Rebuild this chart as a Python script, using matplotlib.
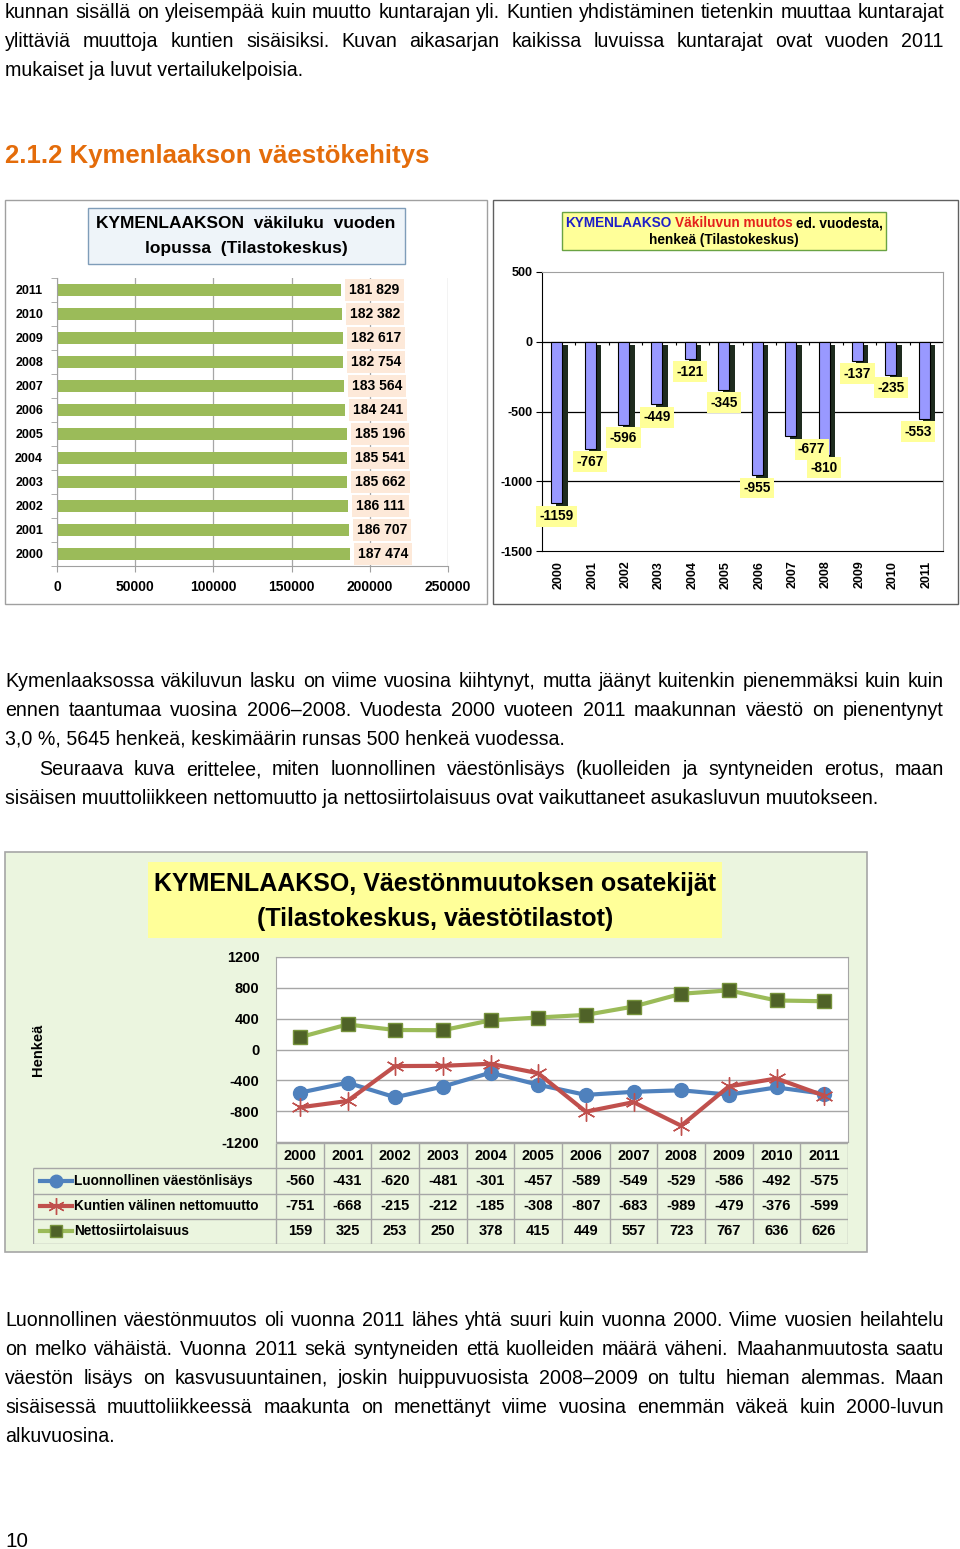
import matplotlib
matplotlib.use("Agg")
import matplotlib.pyplot as plt
from matplotlib.patches import Rectangle
from matplotlib.lines import Line2D
import numpy as np

# ---------------- data ----------------
years = [2000, 2001, 2002, 2003, 2004, 2005, 2006, 2007, 2008, 2009, 2010, 2011]
population = [187474, 186707, 186111, 185662, 185541, 185196, 184241, 183564,
              182754, 182617, 182382, 181829]
change = [-1159, -767, -596, -449, -121, -345, -955, -677, -810, -137, -235, -553]
natural = [-560, -431, -620, -481, -301, -457, -589, -549, -529, -586, -492, -575]
internal = [-751, -668, -215, -212, -185, -308, -807, -683, -989, -479, -376, -599]
immigration = [159, 325, 253, 250, 378, 415, 449, 557, 723, 767, 636, 626]
series_names = ["Luonnollinen väestönlisäys", "Kuntien välinen nettomuutto",
                "Nettosiirtolaisuus"]

para1 = ["kunnan sisällä on yleisempää kuin muutto kuntarajan yli. Kuntien yhdistäminen tietenkin muuttaa kuntarajat",
         "ylittäviä muuttoja kuntien sisäisiksi. Kuvan aikasarjan kaikissa luvuissa kuntarajat ovat vuoden 2011",
         "mukaiset ja luvut vertailukelpoisia."]
heading = "2.1.2 Kymenlaakson väestökehitys"
para2 = ["Kymenlaaksossa väkiluvun lasku on viime vuosina kiihtynyt, mutta jäänyt kuitenkin pienemmäksi kuin kuin",
         "ennen taantumaa vuosina 2006–2008. Vuodesta 2000 vuoteen 2011 maakunnan väestö on pienentynyt",
         "3,0 %, 5645 henkeä, keskimäärin runsas 500 henkeä vuodessa.",
         "Seuraava kuva erittelee, miten luonnollinen väestönlisäys (kuolleiden ja syntyneiden erotus, maan",
         "sisäisen muuttoliikkeen nettomuutto ja nettosiirtolaisuus ovat vaikuttaneet asukasluvun muutokseen."]
para3 = ["Luonnollinen väestönmuutos oli vuonna 2011 lähes yhtä suuri kuin vuonna 2000. Viime vuosien heilahtelu",
         "on melko vähäistä. Vuonna 2011 sekä syntyneiden että kuolleiden määrä väheni. Maahanmuutosta saatu",
         "väestön lisäys on kasvusuuntainen, joskin huippuvuosista 2008–2009 on tultu hieman alemmas. Maan",
         "sisäisessä muuttoliikkeessä maakunta on menettänyt viime vuosina enemmän väkeä kuin 2000-luvun",
         "alkuvuosina."]

# ---------------- setup ----------------
W, H = 960, 1549
fig = plt.figure(figsize=(W / 100, H / 100), dpi=100)
fig.patch.set_facecolor("white")
renderer = fig.canvas.get_renderer()

BODY = ["Liberation Sans Narrow", "Liberation Sans", "DejaVu Sans"]
SANS = ["Liberation Sans", "DejaVu Sans"]


def fx(x):
    return x / W


def fy(y):
    return 1 - y / H


def box(x0, y0, x1, y1):
    return [x0 / W, 1 - y1 / H, (x1 - x0) / W, (y1 - y0) / H]


def text_width(s, **kw):
    t = fig.text(0, 0, s, **kw)
    w = t.get_window_extent(renderer).width
    t.remove()
    return w


def fit_size(s, target, **kw):
    return 10 * target / text_width(s, fontsize=10, **kw)


def rect(x0, y0, x1, y1, **kw):
    r = Rectangle((fx(x0), fy(y1)), (x1 - x0) / W, (y1 - y0) / H,
                  transform=fig.transFigure, **kw)
    fig.add_artist(r)
    return r


def draw_line(s, x0, x1, yb, justify, size, **kw):
    if not justify:
        fig.text(fx(x0), fy(yb), s, fontsize=size, va="baseline", ha="left", **kw)
        return
    words = s.split(" ")
    widths = [text_width(w, fontsize=size, **kw) for w in words]
    gap = (x1 - x0 - sum(widths)) / (len(words) - 1)
    x = x0
    for w, wd in zip(words, widths):
        fig.text(fx(x), fy(yb), w, fontsize=size, va="baseline", ha="left", **kw)
        x += wd + gap


# ---------------- body text ----------------
body_size = fit_size(para2[4], 871, family=BODY)
XL, XR = 5, 944

for i, line in enumerate(para1):
    draw_line(line, XL, XR, 18 + 29 * i, i < 2, body_size, family=BODY)

head_size = fit_size(heading, 425, family=BODY, fontweight="bold")
fig.text(fx(5), fy(163), heading, fontsize=head_size, family=BODY,
         fontweight="bold", color="#E46C0A", va="baseline", ha="left")

p2_y = [687, 716, 745, 775, 804]
p2_x = [XL, XL, XL, 39, XL]
p2_j = [True, True, False, True, False]
for line, yb, x0, j in zip(para2, p2_y, p2_x, p2_j):
    draw_line(line, x0, XR, yb, j, body_size, family=BODY)

p3_y = [1326, 1355, 1384, 1413, 1442]
p3_j = [True, True, True, True, False]
for line, yb, j in zip(para3, p3_y, p3_j):
    draw_line(line, XL, XR, yb, j, body_size, family=BODY)

fig.text(fx(5), fy(1547), "10", fontsize=body_size * 1.05, family=BODY,
         va="baseline", ha="left")

# ---------------- chart 1: population bars ----------------
rect(5, 200, 487, 604, fc="white", ec="#A0A0A0", lw=1.0, zorder=-2)
rect(88, 208, 405, 264, fc="#EEF4F9", ec="#7F9DB9", lw=1.0, zorder=-1)
fig.text(fx(246), fy(224), "KYMENLAAKSON  väkiluku  vuoden", family=SANS,
         fontweight="bold", fontsize=12.5, ha="center", va="center")
fig.text(fx(246), fy(249), "lopussa  (Tilastokeskus)", family=SANS,
         fontweight="bold", fontsize=12.5, ha="center", va="center")

ax1 = fig.add_axes(box(57, 278, 448, 566))
ypos = np.arange(len(years))
ax1.barh(ypos, population, height=0.48, color="#9BBB59", zorder=2)
ax1.set_xlim(0, 250000)
ax1.set_ylim(-0.5, len(years) - 0.5)
ax1.set_xticks(range(0, 250001, 50000))
ax1.set_xticklabels([str(v) for v in range(0, 250001, 50000)],
                    family=SANS, fontweight="bold", fontsize=10)
ax1.set_yticks(ypos)
ax1.set_yticklabels([str(y) for y in years], family=SANS, fontweight="bold", fontsize=9)
ax1.set_yticks(np.arange(-0.5, len(years), 1), minor=True)
ax1.tick_params(axis="y", which="major", length=0, pad=10)
ax1.tick_params(axis="y", which="minor", length=4, color="#A0A0A0")
ax1.tick_params(axis="x", length=4, color="#A0A0A0", pad=6)
ax1.xaxis.grid(True, color="#A6A6A6", lw=0.9)
ax1.set_axisbelow(True)
for s in ["top", "right"]:
    ax1.spines[s].set_visible(False)
for s in ["left", "bottom"]:
    ax1.spines[s].set_color("#A0A0A0")
for yv, pv in zip(ypos, population):
    ax1.annotate(f"{pv:,}".replace(",", " "), (pv, yv), xytext=(8, 0),
                 textcoords="offset pixels", ha="left", va="center",
                 family=SANS, fontweight="bold", fontsize=10,
                 bbox=dict(boxstyle="square,pad=0.28", fc="#FDE9D9", ec="none"))

# ---------------- chart 2: annual change ----------------
rect(493, 200, 958, 604, fc="white", ec="#606060", lw=1.0, zorder=-2)
rect(562, 212, 886, 250, fc="#FFFF99", ec="#6AA343", lw=1.0, zorder=-1)
parts = [("KYMENLAAKSO", "#1F1FC8"), ("Väkiluvun muutos", "#E3201B"),
         ("ed. vuodesta,", "black")]
t_size = 9.8
gap = 3
pw = [text_width(p, family=SANS, fontweight="bold", fontsize=t_size) for p, _ in parts]
x = 724 - (sum(pw) + gap * (len(parts) - 1)) / 2
for (p, c), w in zip(parts, pw):
    fig.text(fx(x), fy(223), p, family=SANS, fontweight="bold", fontsize=t_size,
             color=c, ha="left", va="center")
    x += w + gap
fig.text(fx(724), fy(240), "henkeä (Tilastokeskus)", family=SANS, fontweight="bold",
         fontsize=t_size, ha="center", va="center")

ax2 = fig.add_axes(box(542, 272, 943, 551))
xpos = np.arange(len(years))
ax2.bar(xpos + 0.09, change, width=0.36, bottom=-21, color="#1E2B1E", zorder=2)
ax2.bar(xpos - 0.06, change, width=0.33, color="#9999FF", edgecolor="black",
        lw=0.8, zorder=3)
ax2.set_xlim(-0.5, len(years) - 0.5)
ax2.set_ylim(-1500, 500)
ax2.set_yticks(range(-1500, 501, 500))
ax2.set_yticklabels([str(v) for v in range(-1500, 501, 500)], family=SANS,
                    fontweight="bold", fontsize=9)
ax2.set_xticks(xpos)
ax2.set_xticklabels([str(y) for y in years], rotation=90, family=SANS,
                    fontweight="bold", fontsize=9, va="top")
ax2.tick_params(axis="x", length=0, pad=7)
ax2.tick_params(axis="y", length=4, color="black", pad=3)
for v in (-1000, -500, 0):
    ax2.axhline(v, color="black", lw=0.9, zorder=1)
ax2.vlines(np.arange(0.5, len(years) - 0.5, 1), -25, 0, color="black", lw=0.8, zorder=1)
ax2.spines["top"].set_color("#A0A0A0")
ax2.spines["right"].set_color("#A0A0A0")
label_shift = {2007: 21, 2011: -6}
for xv, yr, cv in zip(xpos, years, change):
    ax2.annotate(str(cv), (xv, cv), xytext=(label_shift.get(yr, 0) - 2, -13),
                 textcoords="offset pixels", ha="center", va="center",
                 family=SANS, fontweight="bold", fontsize=9.8, zorder=5,
                 bbox=dict(boxstyle="square,pad=0.25", fc="#FFFF99", ec="none"))

# ---------------- chart 3: components ----------------
rect(5, 852, 867, 1252, fc="#EBF5DF", ec="#A6A6A6", lw=1.2, zorder=-2)
rect(148, 862, 722, 938, fc="#FFFF99", ec="none", zorder=-1)
title3 = ["KYMENLAAKSO, Väestönmuutoksen osatekijät", "(Tilastokeskus, väestötilastot)"]
t3_size = fit_size(title3[0], 563, family=BODY, fontweight="bold")
fig.text(fx(435), fy(884), title3[0], family=BODY, fontweight="bold",
         fontsize=t3_size, ha="center", va="center")
fig.text(fx(435), fy(919), title3[1], family=BODY, fontweight="bold",
         fontsize=t3_size, ha="center", va="center")

ax3 = fig.add_axes(box(276, 957, 848, 1142))
ax3.set_facecolor("white")
colors = ["#4F81BD", "#C0504D", "#9BBB59"]
ax3.plot(xpos, natural, color=colors[0], lw=3, marker="o", ms=10,
         mfc=colors[0], mec=colors[0], zorder=3)
ax3.plot(xpos, internal, color=colors[1], lw=3, marker=(6, 2, 0), ms=13,
         mec=colors[1], mew=1.0, zorder=4)
ax3.plot(xpos, immigration, color=colors[2], lw=3, marker="s", ms=10,
         mfc="#4F6228", mec="#77933C", mew=1, zorder=3)
ax3.set_xlim(-0.5, len(years) - 0.5)
ax3.set_ylim(-1200, 1200)
ax3.set_yticks(range(-1200, 1201, 400))
ax3.set_yticklabels([str(v) for v in range(-1200, 1201, 400)], family=SANS,
                    fontweight="bold", fontsize=10.5)
ax3.set_xticks([])
ax3.tick_params(axis="y", length=0, pad=12)
ax3.yaxis.grid(True, color="#A6A6A6", lw=1)
ax3.set_axisbelow(True)
for s in ax3.spines.values():
    s.set_color("#A6A6A6")
fig.text(fx(38), fy(1050), "Henkeä", rotation=90, family=SANS, fontweight="bold",
         fontsize=10.5, ha="center", va="center")

# data table
ppu = (848 - 276) / len(years)
left_u = -0.5 - (276 - 33) / ppu
axt = fig.add_axes(box(33, 1143, 848, 1244))
axt.set_xlim(left_u, len(years) - 0.5)
axt.set_ylim(0, 4)
axt.axis("off")
gc = "#A6A6A6"
axt.hlines([4], -0.5, len(years) - 0.5, color=gc, lw=1)
axt.hlines([0, 1, 2, 3], left_u, len(years) - 0.5, color=gc, lw=1)
axt.vlines(np.arange(-0.5, len(years), 1), 0, 4, color=gc, lw=1)
axt.vlines([left_u], 0, 3, color=gc, lw=1)


def px2u(p):
    return -0.5 + (p - 276) / ppu


for xv, yr in zip(xpos, years):
    axt.text(xv, 3.5, str(yr), ha="center", va="center", family=SANS,
             fontweight="bold", fontsize=10.5)
table_rows = [natural, internal, immigration]
markers = [dict(marker="o", ms=9, mfc=colors[0], mec=colors[0]),
           dict(marker=(6, 2, 0), ms=12, mec=colors[1], mew=1.0),
           dict(marker="s", ms=9, mfc="#4F6228", mec="#77933C")]
for r, (vals, name, col, mk) in enumerate(zip(table_rows, series_names, colors, markers)):
    yc = 2.5 - r
    for xv, v in zip(xpos, vals):
        axt.text(xv, yc, str(v), ha="center", va="center", family=SANS,
                 fontweight="bold", fontsize=10.5)
    axt.add_line(Line2D([px2u(40), px2u(72)], [yc, yc], color=col, lw=3))
    axt.plot([px2u(56)], [yc], color=col, **mk)
    axt.text(px2u(74), yc, name, ha="left", va="center", family=SANS,
             fontweight="bold", fontsize=9.8)

fig.savefig("out.png", dpi=100, facecolor="white")
